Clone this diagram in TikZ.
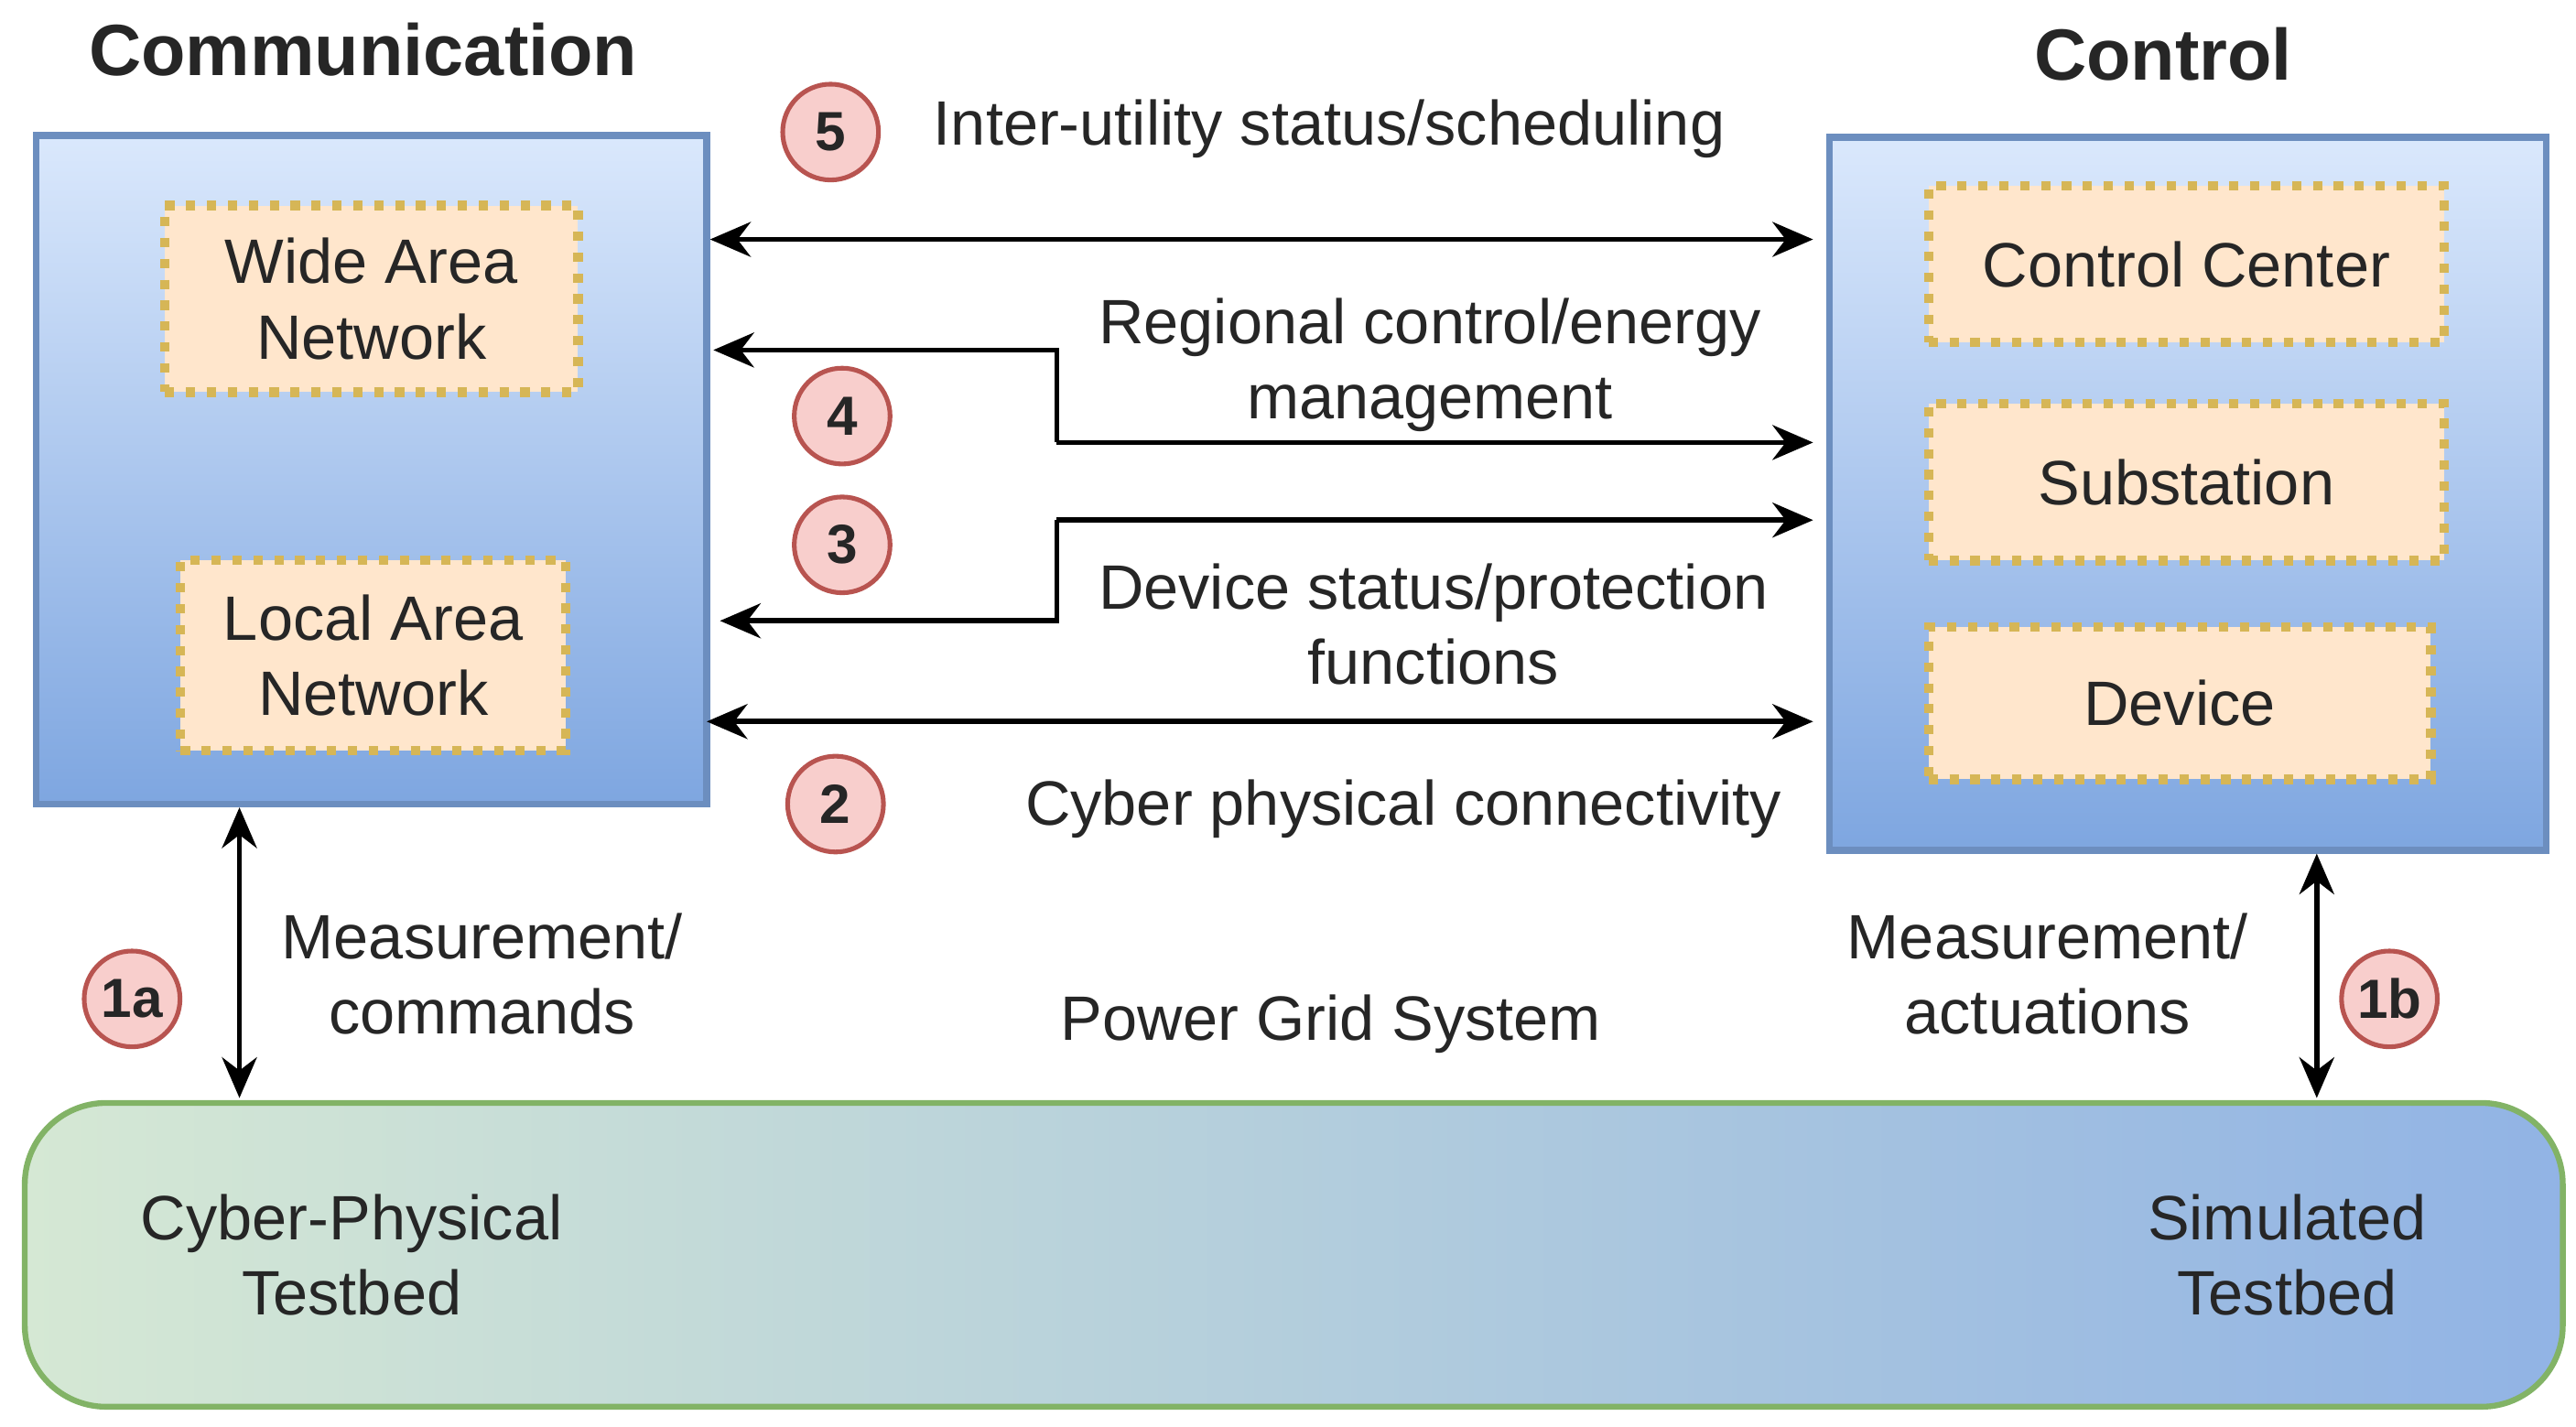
\documentclass[tikz,border=0pt]{standalone}
\usepackage{fontspec}
\setmainfont{Liberation Sans}
\usetikzlibrary{arrows.meta}
\definecolor{bb}{HTML}{6C8EBF}
\definecolor{bt}{HTML}{DAE8FC}
\definecolor{bd}{HTML}{7EA6E0}
\definecolor{of}{HTML}{FFE6CC}
\definecolor{ob}{HTML}{D6B656}
\definecolor{rf}{HTML}{F8CECC}
\definecolor{rb}{HTML}{B85450}
\definecolor{gf}{HTML}{D5E8D4}
\definecolor{gb}{HTML}{82B366}
\begin{document}
\begin{tikzpicture}[x=0.01cm,y=-0.01cm,
  every node/.style={font=\fontsize{10.8}{13}\selectfont,align=center,text=black!85},
  big/.style={draw=bb,line width=1.2pt,top color=bt,bottom color=bd},
  inner/.style={draw=ob,fill=of,line width=1.6pt,dotted},
  num/.style={circle,draw=rb,fill=rf,line width=0.8pt,minimum size=0.58cm,inner sep=0pt,font=\fontsize{9.5}{11}\selectfont\bfseries},
  arr/.style={line width=0.9pt,-{Stealth[length=7pt,width=6pt]}},
  darr/.style={line width=0.9pt,{Stealth[length=7pt,width=6pt]}-{Stealth[length=7pt,width=6pt]}},
  ttl/.style={font=\fontsize{12.5}{14}\selectfont\bfseries}]
\useasboundingbox (0,0) rectangle (1560,864);
\node[ttl] (tc) at (220,30) {Communication};
\node[ttl] (tr) at (1310,33) {Control};
\path[big] (22,82) rectangle (428,487);
\node[inner,minimum width=2.5cm,minimum height=1.13cm] (wan) at (225,181) {Wide Area\\Network};
\node[inner,minimum width=2.33cm,minimum height=1.15cm] (lan) at (226,397) {Local Area\\Network};
\path[big] (1108,83) rectangle (1542,515);
\node[inner,minimum width=3.12cm,minimum height=0.95cm] (cc) at (1324,160) {Control Center};
\node[inner,minimum width=3.12cm,minimum height=0.95cm] (ss) at (1324,292) {Substation};
\node[inner,minimum width=3.04cm,minimum height=0.92cm] (dv) at (1320,426) {Device};
\shade[left color=gf,right color=bd!85,rounded corners=14pt,draw=gb,line width=1pt] (15,668) rectangle (1552,852);
\node (cpt) at (213,760) {Cyber-Physical\\Testbed};
\node (st) at (1385,760) {Simulated\\Testbed};
\node (pgs) at (806,620) {Power Grid System};
\coordinate (a5l) at (430,145); \coordinate (a5r) at (1098,145);
\draw[darr] (a5l) -- (a5r);
\node[num] (n5) at (503,80) {5};
\node (t5) at (805,78) {Inter-utility status/scheduling};
\coordinate (a4m) at (640,268); \coordinate (a4r) at (1098,268); \coordinate (a4l) at (432,212);
\draw[arr] (a4m) -- (a4r);
\draw[arr] (a4m) -- (640,212) -- (a4l);
\node[num] (n4) at (510,252) {4};
\node (t4) at (866,221) {Regional control/energy\\management};
\coordinate (a3m) at (640,315); \coordinate (a3r) at (1098,315); \coordinate (a3l) at (436,376);
\draw[arr] (a3m) -- (a3r);
\draw[arr] (a3m) -- (640,376) -- (a3l);
\node[num] (n3) at (510,330) {3};
\node (t3) at (868,378) {Device status/protection\\functions};
\coordinate (a2l) at (428,437); \coordinate (a2r) at (1098,437);
\draw[darr] (a2l) -- (a2r);
\node[num] (n2) at (506,487) {2};
\node (t2) at (850,490) {Cyber physical connectivity};
\coordinate (a1t) at (145,489); \coordinate (a1b) at (145,665);
\draw[darr] (a1t) -- (a1b);
\node[num] (n1a) at (80,605) {1a};
\node (t1a) at (292,590) {Measurement/\\commands};
\coordinate (b1t) at (1403,517); \coordinate (b1b) at (1403,665);
\draw[darr] (b1t) -- (b1b);
\node[num] (n1b) at (1447,605) {1b};
\node (t1b) at (1240,590) {Measurement/\\actuations};
\end{tikzpicture}
\end{document}
